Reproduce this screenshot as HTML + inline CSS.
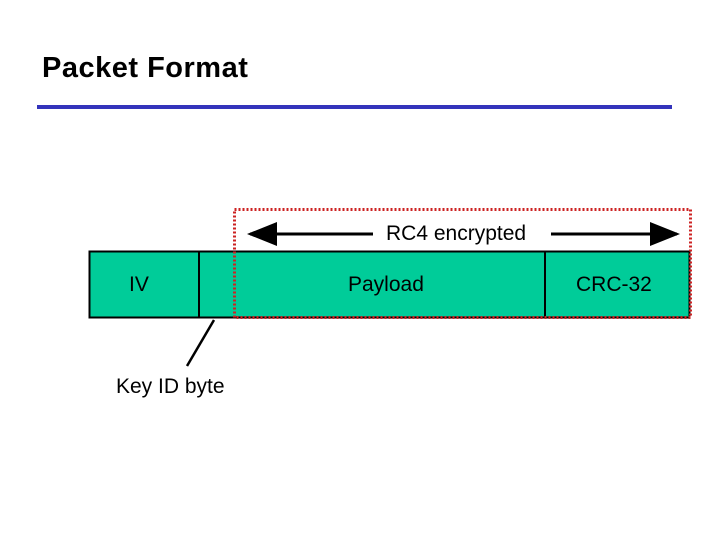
<!DOCTYPE html>
<html><head><style>
body{margin:0;width:720px;height:540px;background:#fff;overflow:hidden;position:relative;font-family:"Liberation Sans",sans-serif}
.t{position:absolute;white-space:nowrap;color:#000}
</style></head><body>
<div class="t" style="left:42px;top:52px;font-size:29px;font-weight:bold;letter-spacing:0.5px">Packet Format</div>
<div style="position:absolute;left:37px;top:105px;width:635px;height:4px;background:#3333bb"></div>
<svg width="720" height="540" style="position:absolute;left:0;top:0">
<defs><marker id="a" markerWidth="10" markerHeight="8" refX="9" refY="4" orient="auto"><path d="M0,0L10,4L0,8z" fill="#000"/></marker></defs>
<rect x="89.5" y="251.5" width="600" height="66" fill="#00cc99" stroke="#000" stroke-width="2"/>
<line x1="199" y1="251" x2="199" y2="318" stroke="#000" stroke-width="2"/>
<line x1="545" y1="251" x2="545" y2="318" stroke="#000" stroke-width="2"/>
<rect x="234.5" y="209.5" width="456" height="108" fill="none" stroke="#cc2222" stroke-width="3" stroke-dasharray="2,2"/>
<line x1="373" y1="234" x2="250" y2="234" stroke="#000" stroke-width="3" marker-end="url(#a)"/>
<line x1="551" y1="234" x2="677" y2="234" stroke="#000" stroke-width="3" marker-end="url(#a)"/>
<line x1="187" y1="366" x2="214" y2="320" stroke="#000" stroke-width="2.5"/>
</svg>
<div class="t" style="left:386px;top:222px;font-size:21px">RC4 encrypted</div>
<div class="t" style="left:129px;top:273px;font-size:21px">IV</div>
<div class="t" style="left:348px;top:273px;font-size:21px">Payload</div>
<div class="t" style="left:576px;top:273px;font-size:21px">CRC-32</div>
<div class="t" style="left:116px;top:375px;font-size:21px">Key ID byte</div>
</body></html>
